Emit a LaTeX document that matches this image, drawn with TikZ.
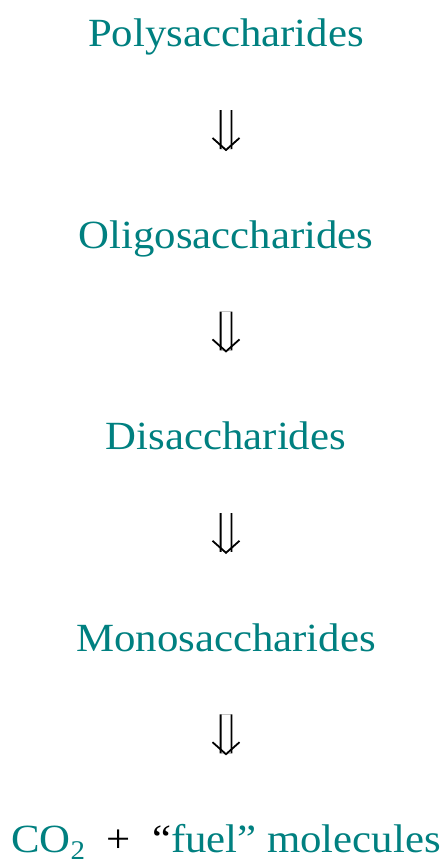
\documentclass[tikz,border=0pt]{standalone}
\usepackage{fontspec}
\setmainfont{Liberation Serif}
\usetikzlibrary{positioning, arrows.meta}
\definecolor{sugarteal}{RGB}{0,128,128}

\begin{document}
\begin{tikzpicture}[
                x=1pt, y=-1pt,
                node distance=164pt,
                sugar/.style={text=sugarteal, font=\fontsize{40}{48}\selectfont, inner sep=0pt, text height=28pt, text depth=9pt, align=center, xscale=1.07, transform shape},
                breakdown/.style={double, double distance=9pt, line width=1.8pt, -{Straight Barb[length=12pt, width=27pt, line width=1.8pt]}, shorten <=54pt, shorten >=69pt}
            ]%
            \useasboundingbox (0,0) rectangle (446,864);
            %
            % Niveles de hidrolisis
            \node[sugar] (poly) at (226,37.5) {Polysaccharides};
            \node[sugar, below=of poly] (oligo) {Oligosaccharides};
            \node[sugar, below=of oligo] (di) {Disaccharides};
            \node[sugar, below=of di] (mono) {Monosaccharides};
            \node[sugar, below=of mono] (fuel) {CO\raisebox{-7pt}{\fontsize{27}{27}\selectfont 2}\hspace{0.5em}\textcolor{black}{+}\hspace{0.5em}\textcolor{black}{``}fuel'' molecules};
            %
            % Flechas
            \draw[breakdown] (poly) -- (oligo);
            \draw[breakdown] (oligo) -- (di);
            \draw[breakdown] (di) -- (mono);
            \draw[breakdown] (mono) -- (fuel);
        \end{tikzpicture}
\end{document}
